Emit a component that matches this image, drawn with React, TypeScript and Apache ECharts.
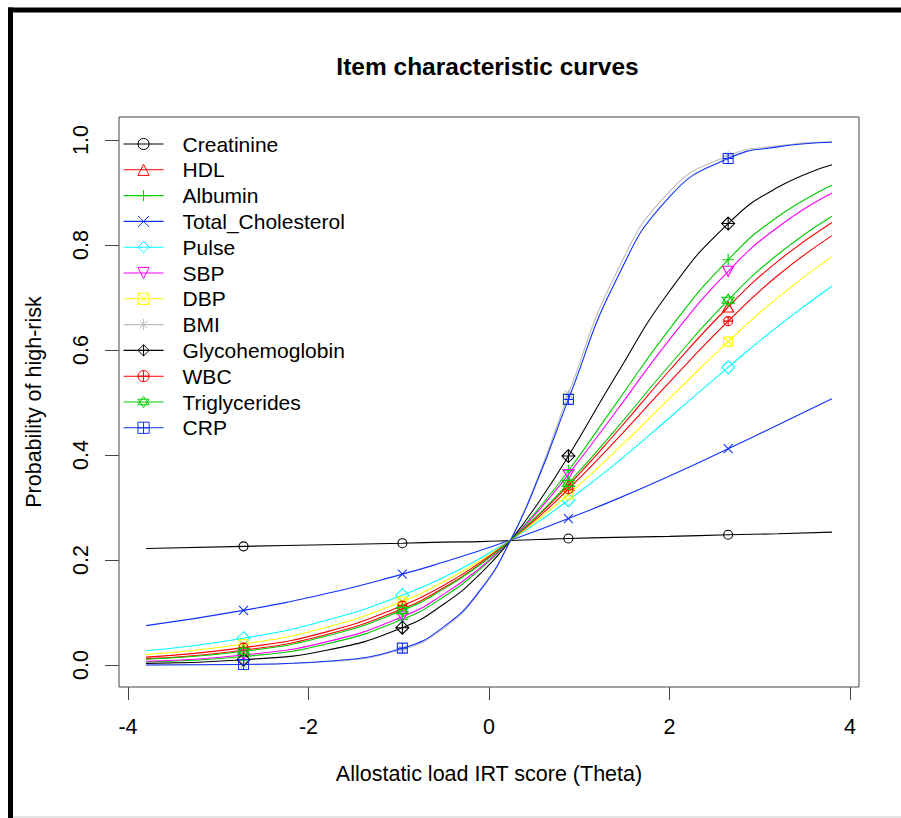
import React, { useEffect, useRef } from 'react';
import * as echarts from 'echarts';

// ---- data ----
const theta = [-3.8, -2.72, -1.8, -0.96, -0.5, -0.1, 0.24, 0.55, 0.88, 1.4, 2.0, 2.65, 3.2, 3.8];
const markerTheta = [-2.72, -0.96, 0.88, 2.65];
const xTicks = [-4, -2, 0, 2, 4];
const yTicks = [0, 0.2, 0.4, 0.6, 0.8, 1.0];

const itemNames = [
  'Creatinine', 'HDL', 'Albumin', 'Total_Cholesterol', 'Pulse', 'SBP',
  'DBP', 'BMI', 'Glycohemoglobin', 'WBC', 'Triglycerides', 'CRP',
];

const creatinine = [0.222, 0.226, 0.229, 0.232, 0.234, 0.235, 0.237, 0.239, 0.241, 0.243, 0.245, 0.248, 0.250, 0.253];
const hdl = [0.012, 0.028, 0.058, 0.107, 0.147, 0.192, 0.238, 0.286, 0.342, 0.441, 0.561, 0.682, 0.769, 0.843];
const albumin = [0.006, 0.016, 0.040, 0.087, 0.130, 0.182, 0.238, 0.298, 0.370, 0.496, 0.640, 0.772, 0.854, 0.914];
const totalCholesterol = [0.075, 0.104, 0.136, 0.173, 0.196, 0.218, 0.238, 0.257, 0.279, 0.315, 0.360, 0.412, 0.457, 0.507];
const pulse = [0.027, 0.051, 0.085, 0.133, 0.167, 0.203, 0.238, 0.273, 0.314, 0.383, 0.471, 0.567, 0.645, 0.722];
const sbp = [0.007, 0.019, 0.044, 0.092, 0.135, 0.185, 0.238, 0.294, 0.363, 0.481, 0.620, 0.750, 0.834, 0.899];
const dbp = [0.020, 0.040, 0.072, 0.121, 0.159, 0.198, 0.238, 0.278, 0.325, 0.407, 0.508, 0.616, 0.700, 0.778];
const bmi = [0.000, 0.001, 0.006, 0.030, 0.070, 0.140, 0.238, 0.361, 0.516, 0.743, 0.902, 0.970, 0.989, 0.997];
const glycohemoglobin = [0.003, 0.010, 0.028, 0.071, 0.116, 0.173, 0.238, 0.310, 0.398, 0.549, 0.712, 0.841, 0.910, 0.953];
const wbc = [0.015, 0.033, 0.063, 0.113, 0.152, 0.195, 0.238, 0.282, 0.335, 0.427, 0.539, 0.655, 0.742, 0.818];
const triglycerides = [0.011, 0.026, 0.055, 0.104, 0.145, 0.191, 0.238, 0.287, 0.346, 0.448, 0.571, 0.695, 0.782, 0.855];
const crp = [0.000, 0.001, 0.007, 0.032, 0.073, 0.142, 0.238, 0.357, 0.506, 0.730, 0.892, 0.965, 0.987, 0.996];

const itemValues = [
  creatinine, hdl, albumin, totalCholesterol, pulse, sbp,
  dbp, bmi, glycohemoglobin, wbc, triglycerides, crp,
];

// ---- styles ----
const itemColors = [
  '#000000', '#FF0000', '#00CD00', '#1030FF', '#00FFFF', '#FF00FF',
  '#FFFF00', '#BEBEBE', '#000000', '#FF0000', '#00CD00', '#1030FF',
];

const CIRCLE = 'M0 10 A10 10 0 1 0 20 10 A10 10 0 1 0 0 10 Z';
const PLUS = 'M10 0 L10 20 M0 10 L20 10';
const symbols = [
  'path://' + CIRCLE,
  'path://M10 0 L20 18 L0 18 Z',
  'path://' + PLUS,
  'path://M0 0 L20 20 M20 0 L0 20',
  'path://M10 0 L20 10 L10 20 L0 10 Z',
  'path://M0 0 L20 0 L10 18 Z',
  'path://M0 0 L20 0 L20 20 L0 20 Z M0 0 L20 20 M20 0 L0 20',
  'path://M10 0 L10 20 M0 10 L20 10 M3 3 L17 17 M17 3 L3 17',
  'path://M10 0 L20 10 L10 20 L0 10 Z ' + PLUS,
  'path://' + CIRCLE + ' ' + PLUS,
  'path://M10 0 L19 15 L1 15 Z M10 20 L1 5 L19 5 Z',
  'path://M0 0 L20 0 L20 20 L0 20 Z ' + PLUS,
];
const symbolSizes: any[] = [9, [11, 10], 12, 9, 13, [11, 10], 9, 10, 13, 9, 12, 10];

const FONT = '"Liberation Sans", Arial, Helvetica, sans-serif';
const HOLLOW = 'rgba(0,0,0,0)';

export default function App() {
  const ref = useRef<HTMLDivElement>(null);

  useEffect(() => {
    if (!ref.current) return;
    const chart = echarts.init(ref.current, null, { renderer: 'svg' });

    const series = itemNames.map((name, k) => ({
      name,
      type: 'line',
      smooth: 0.5,
      symbol: symbols[k],
      symbolSize: symbolSizes[k],
      showSymbol: true,
      lineStyle: { color: itemColors[k], width: 1.1 },
      itemStyle: { color: HOLLOW, borderColor: itemColors[k], borderWidth: 1.1 },
      emphasis: { disabled: true },
      z: 2 + k,
      data: theta.map((t, i) =>
        markerTheta.indexOf(t) >= 0
          ? { value: [t, itemValues[k][i]] }
          : { value: [t, itemValues[k][i]], symbol: 'none' }
      ),
    }));

    chart.setOption({
      animation: false,
      backgroundColor: '#ffffff',
      textStyle: { fontFamily: FONT },
      grid: {
        left: 119,
        top: 117,
        width: 740,
        height: 570,
        show: true,
        borderColor: '#444',
        borderWidth: 1,
        backgroundColor: 'transparent',
        containLabel: false,
      },
      legend: {
        orient: 'vertical',
        left: 123,
        top: 133.5,
        padding: 0,
        itemWidth: 40,
        itemHeight: 14,
        itemGap: 4.8,
        selectedMode: false,
        textStyle: {
          fontFamily: FONT,
          fontSize: 21,
          lineHeight: 21,
          color: '#000',
          padding: [0, 0, 0, 14],
        },
        data: itemNames.map((name, k) => ({
          name,
          itemStyle: { color: HOLLOW, borderColor: itemColors[k], borderWidth: 1 },
          lineStyle: { color: itemColors[k], width: 1.1 },
        })),
      },
      xAxis: {
        type: 'value',
        min: -4.1,
        max: 4.1,
        axisLine: { show: false, onZero: false },
        splitLine: { show: false },
        axisTick: {
          show: true,
          inside: false,
          length: 13,
          customValues: xTicks,
          lineStyle: { color: '#444', width: 1 },
        },
        axisLabel: {
          customValues: xTicks,
          margin: 29,
          fontSize: 21.5,
          fontFamily: FONT,
          color: '#000',
        },
        name: 'Allostatic load IRT score (Theta)',
        nameLocation: 'middle',
        nameGap: 76,
        nameTextStyle: { fontSize: 21.5, fontFamily: FONT, color: '#000' },
      },
      yAxis: {
        type: 'value',
        min: -0.042,
        max: 1.044,
        axisLine: { show: false, onZero: false },
        splitLine: { show: false },
        axisTick: {
          show: true,
          inside: false,
          length: 14,
          customValues: yTicks,
          lineStyle: { color: '#444', width: 1 },
        },
        axisLabel: {
          customValues: yTicks,
          rotate: 90,
          margin: 27,
          fontSize: 21.5,
          fontFamily: FONT,
          color: '#000',
          formatter: (v: number) => v.toFixed(1),
        },
        name: 'Probability of high-risk',
        nameLocation: 'middle',
        nameGap: 74,
        nameRotate: 90,
        nameTextStyle: { fontSize: 21.5, fontFamily: FONT, color: '#000' },
      },
      graphic: [
        { type: 'rect', shape: { x: 8, y: 7.5, width: 893, height: 5 }, style: { fill: '#000' }, silent: true },
        { type: 'rect', shape: { x: 8, y: 7.5, width: 5, height: 811 }, style: { fill: '#000' }, silent: true },
        { type: 'rect', shape: { x: 13, y: 816, width: 888, height: 2 }, style: { fill: '#e4e4e4' }, silent: true },
        {
          type: 'text',
          x: 487.5,
          y: 66,
          silent: true,
          style: {
            text: 'Item characteristic curves',
            fontFamily: FONT,
            fontWeight: 'bold',
            fontSize: 24.5,
            fill: '#000',
            align: 'center',
            verticalAlign: 'middle',
          },
        },
      ],
      series,
    });

    return () => chart.dispose();
  }, []);

  return (
    <div
      ref={ref}
      style={{ position: 'fixed', left: 0, top: 0, width: 901, height: 818, background: '#fff' }}
    />
  );
}
